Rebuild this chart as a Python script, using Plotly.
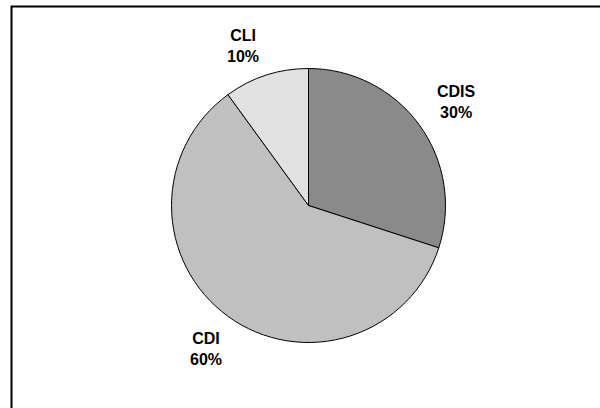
import math
import plotly.graph_objects as go

labels = ["CDIS", "CDI", "CLI"]
values = [30, 60, 10]
colors = ["#8a8a8a", "#c0c0c0", "#e1e1e1"]

W, H = 600, 408
cx, cy, r = 308.5, 205.5, 137.0  # pixel layout of the pie

fig = go.Figure(go.Pie(
    labels=labels, values=values, sort=False, direction="clockwise", rotation=0,
    marker=dict(colors=colors, line=dict(color="#000000", width=1)),
    textinfo="none", hoverinfo="label+percent", showlegend=False,
    domain=dict(x=[(cx - r) / W, (cx + r) / W], y=[(H - cy - r) / H, (H - cy + r) / H]),
))

# label positions derived from slice mid-angles
total = sum(values)
start = 0.0
dist = [1.32, 1.27, 1.27]
nudge = [(2, 3), (0, 3), (-12, 6)]
for lab, v, d, (nx, ny) in zip(labels, values, dist, nudge):
    mid = (start + v / 2) / total * 2 * math.pi
    start += v
    px = cx + d * r * math.sin(mid) + nx
    py = cy - d * r * math.cos(mid) + ny
    fig.add_annotation(
        x=px / W, y=1 - py / H, xref="paper", yref="paper", showarrow=False,
        text=f"<b>{lab}</b><br><b>{round(v / total * 100)}%</b>",
        font=dict(family="Liberation Sans, Arial", size=16, color="#000000"),
        xanchor="center", yanchor="middle", align="center",
    )

fig.add_shape(type="rect", xref="paper", yref="paper",
              x0=11.5 / W, x1=1.05, y0=-0.05, y1=1 - 6.5 / H,
              line=dict(color="#000000", width=2), fillcolor="rgba(0,0,0,0)")

fig.update_layout(width=W, height=H, margin=dict(l=0, r=0, t=0, b=0),
                  paper_bgcolor="white", plot_bgcolor="white")
fig.write_html("out.html")
